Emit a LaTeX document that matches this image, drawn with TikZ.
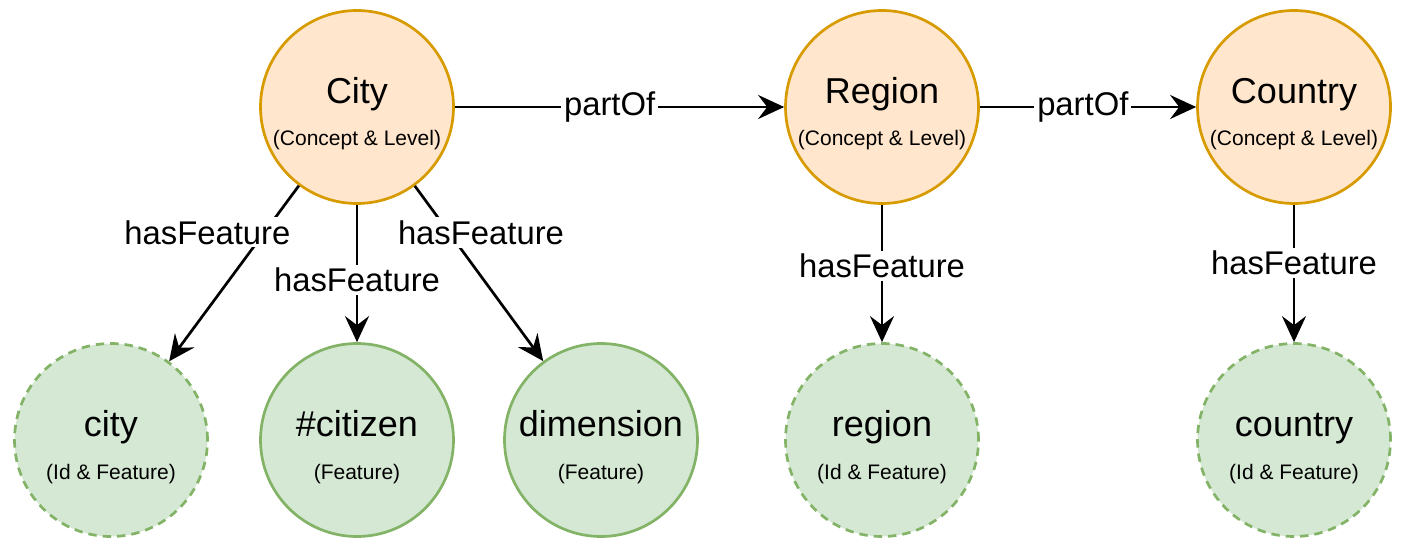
\documentclass[tikz,border=0pt]{standalone}
\usepackage{fontspec}
\setmainfont{Liberation Sans}
\usetikzlibrary{positioning}
\usetikzlibrary{arrows.meta}

\definecolor{conceptfill}{HTML}{FFE6CC}
\definecolor{conceptline}{HTML}{D79B00}
\definecolor{featurefill}{HTML}{D5E8D4}
\definecolor{featureline}{HTML}{82B366}

\begin{document}
\begin{tikzpicture}[->, >={Stealth[length=13pt,width=12pt,inset=4.5pt]}, line width=1.35pt, on grid, node distance=166.5pt]
    \tikzstyle{concept}=[circle, minimum size=96.5pt, inner sep=0pt, draw=conceptline, fill=conceptfill,
                         font=\fontsize{18}{21.6}\selectfont, text height=0pt, text depth=3.5pt]
    \tikzstyle{feature}=[concept, draw=featureline, fill=featurefill]
    \tikzstyle{idfeature}=[feature, dash pattern=on 4.2pt off 3pt]
    \tikzstyle{kind}=[font=\fontsize{10.5}{12.6}\selectfont, text height=0pt, text depth=0pt, inner sep=0pt, yshift=-19.5pt]
    \tikzstyle{edgelabel}=[fill=white, inner sep=1.5pt, font=\fontsize{16.4}{19.7}\selectfont]
    \useasboundingbox (-178.5pt,53.5pt) rectangle (527pt,-224.5pt);
    \node[concept, label={[kind]center:(Concept \& Level)}]    (City)                          {City};
    \node[concept, label={[kind]center:(Concept \& Level)}]    (Region)[right=262.5pt of City] {Region};
    \node[concept, label={[kind]center:(Concept \& Level)}]    (Country)[right=206pt of Region] {Country};
    \node[feature, label={[kind]center:(Feature)}]             (citizen)[below=of City]        {\#citizen};
    \node[idfeature, label={[kind]center:(Id \& Feature)}]     (city)[left=123pt of citizen]   {city};
    \node[feature, label={[kind]center:(Feature)}]             (dimension)[right=122pt of citizen] {dimension};
    \node[idfeature, label={[kind]center:(Id \& Feature)}]     (region)[below=of Region]       {region};
    \node[idfeature, label={[kind]center:(Id \& Feature)}]     (country)[below=of Country]     {country};
    \path
    (City)
      edge node[edgelabel, pos=0.47]{partOf}                          (Region)
      edge node[edgelabel, pos=0.266, xshift=-28.5pt]{hasFeature}     (city)
      edge node[edgelabel, pos=0.546]{hasFeature}                     (citizen)
      edge node[edgelabel, pos=0.266, xshift=16pt]{hasFeature}        (dimension)
    (Region)
      edge node[edgelabel, pos=0.476]{partOf}                         (Country)
      edge node[edgelabel, pos=0.445]{hasFeature}                     (region)
    (Country)
      edge node[edgelabel, pos=0.425]{hasFeature}                     (country);
\end{tikzpicture}
\end{document}
